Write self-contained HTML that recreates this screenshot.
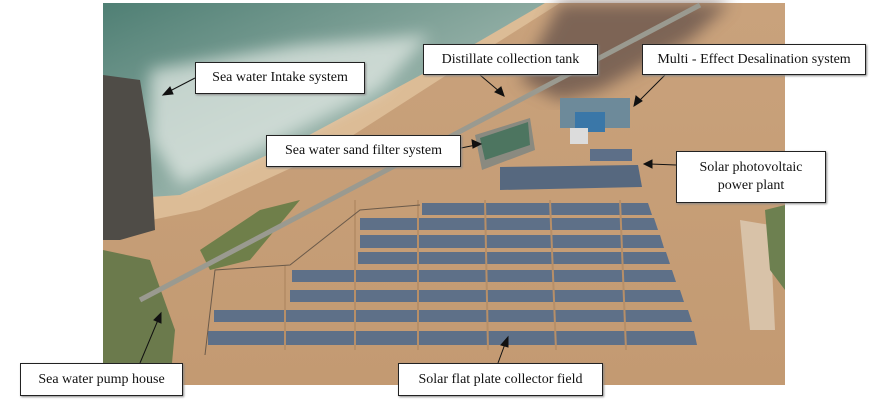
<!DOCTYPE html>
<html><head><style>
body{margin:0;background:#fff;width:889px;height:408px;overflow:hidden;position:relative;font-family:"Liberation Serif",serif}
.l{position:absolute;background:#fff;border:1.5px solid #222;box-shadow:1px 1px 2px #888;font-size:14px;color:#111;display:flex;align-items:center;justify-content:center;text-align:center;line-height:18px;box-sizing:border-box}
</style></head><body>
<svg width="889" height="408" style="position:absolute;left:0;top:0">
<defs>
<linearGradient id="sea" x1="0" y1="0" x2="1" y2="1"><stop offset="0" stop-color="#4f7f74"/><stop offset="0.6" stop-color="#97b2a9"/><stop offset="1" stop-color="#d9dfd8"/></linearGradient>
<linearGradient id="gr" x1="0" y1="0" x2="0" y2="1"><stop offset="0" stop-color="#c9a27c"/><stop offset="1" stop-color="#c39a72"/></linearGradient>
<filter id="b"><feGaussianBlur stdDeviation="8"/></filter>
</defs>
<rect x="103" y="3" width="682" height="382" fill="url(#gr)"/>
<polygon points="103,3 560,3 470,60 330,150 200,210 103,230" fill="#dcbc96"/>
<polygon points="103,3 545,3 430,70 300,140 180,195 103,200" fill="url(#sea)"/>
<polygon points="150,70 300,45 430,35 380,90 260,150 180,185 150,140" fill="#e8eee9" opacity="0.7" filter="url(#b)"/>
<polygon points="560,3 730,3 690,40 600,90 560,100 520,80" fill="#6f5a50" opacity="0.85" filter="url(#b)"/>
<polygon points="103,75 140,80 150,140 155,230 120,240 103,240" fill="#4f4c47"/>
<polygon points="103,250 150,260 175,330 170,385 103,385" fill="#6b7a4c"/>
<polygon points="200,250 260,210 300,200 250,260 210,270" fill="#6f7f4a"/>
<line x1="140" y1="300" x2="700" y2="5" stroke="#9a9a90" stroke-width="5"/>
<polygon points="475,135 530,118 535,150 482,170" fill="#8a8a80"/><polygon points="480,138 528,122 530,145 485,160" fill="#4d7560"/>
<rect x="560" y="98" width="70" height="30" fill="#6d8a9a"/><rect x="575" y="112" width="30" height="20" fill="#3a77a8"/><rect x="570" y="128" width="18" height="16" fill="#dcdcdc"/>
<rect x="590" y="149" width="42" height="12" fill="#5d6f88"/>
<polygon points="500,167 638,165 642,187 500,190" fill="#56687f"/>
<polygon points="740,220 770,225 775,330 750,330" fill="#d8c2a8"/>
<polygon points="765,210 785,205 785,290 770,270" fill="#6d8050"/>
<g fill="#5e7088">
<polygon points="422,203 648,203 652,215 422,215"/>
<polygon points="360,218 654,218 658,230 360,230"/>
<polygon points="360,235 660,235 664,248 360,248"/>
<polygon points="358,252 666,252 670,264 358,264"/>
<polygon points="292,270 672,270 676,282 292,282"/>
<polygon points="290,290 680,290 684,302 290,302"/>
<polygon points="214,310 688,310 692,322 214,322"/>
<polygon points="208,331 694,331 697,345 208,345"/>
</g>
<g stroke="#b78f68" stroke-width="2">
<line x1="355" y1="200" x2="355" y2="350"/><line x1="418" y1="200" x2="418" y2="350"/><line x1="485" y1="200" x2="488" y2="350"/><line x1="550" y1="200" x2="556" y2="350"/><line x1="620" y1="200" x2="626" y2="350"/><line x1="285" y1="265" x2="285" y2="350"/>
</g>
<polyline points="205,355 215,270 290,265 360,210 420,205" fill="none" stroke="#6b5a4a" stroke-width="1"/>
<g stroke="#111" stroke-width="1" fill="#111">
<line x1="195" y1="78" x2="168" y2="92"/><polygon points="163,95 170,87 173,94"/>
<line x1="480" y1="75" x2="500" y2="92"/><polygon points="504,96 495,92 501,87"/>
<line x1="665" y1="75" x2="638" y2="102"/><polygon points="634,106 636,96 642,101"/>
<line x1="461" y1="148" x2="476" y2="145"/><polygon points="481,144 472,140 473,148"/>
<line x1="676" y1="165" x2="650" y2="164"/><polygon points="644,164 652,160 652,168"/>
<line x1="140" y1="363" x2="158" y2="320"/><polygon points="161,313 161,323 154,320"/>
<line x1="498" y1="363" x2="505" y2="344"/><polygon points="508,337 508,347 501,345"/>
</g>
</svg>
<div class="l" style="left:195px;top:62px;width:170px;height:32px">Sea water Intake system</div>
<div class="l" style="left:423px;top:44px;width:175px;height:31px">Distillate collection tank</div>
<div class="l" style="left:642px;top:44px;width:224px;height:31px">Multi - Effect Desalination system</div>
<div class="l" style="left:266px;top:135px;width:195px;height:32px">Sea water sand filter system</div>
<div class="l" style="left:676px;top:151px;width:150px;height:52px">Solar photovoltaic<br>power plant</div>
<div class="l" style="left:20px;top:363px;width:163px;height:33px">Sea water pump house</div>
<div class="l" style="left:398px;top:363px;width:205px;height:33px">Solar flat plate collector field</div>
</body></html>
